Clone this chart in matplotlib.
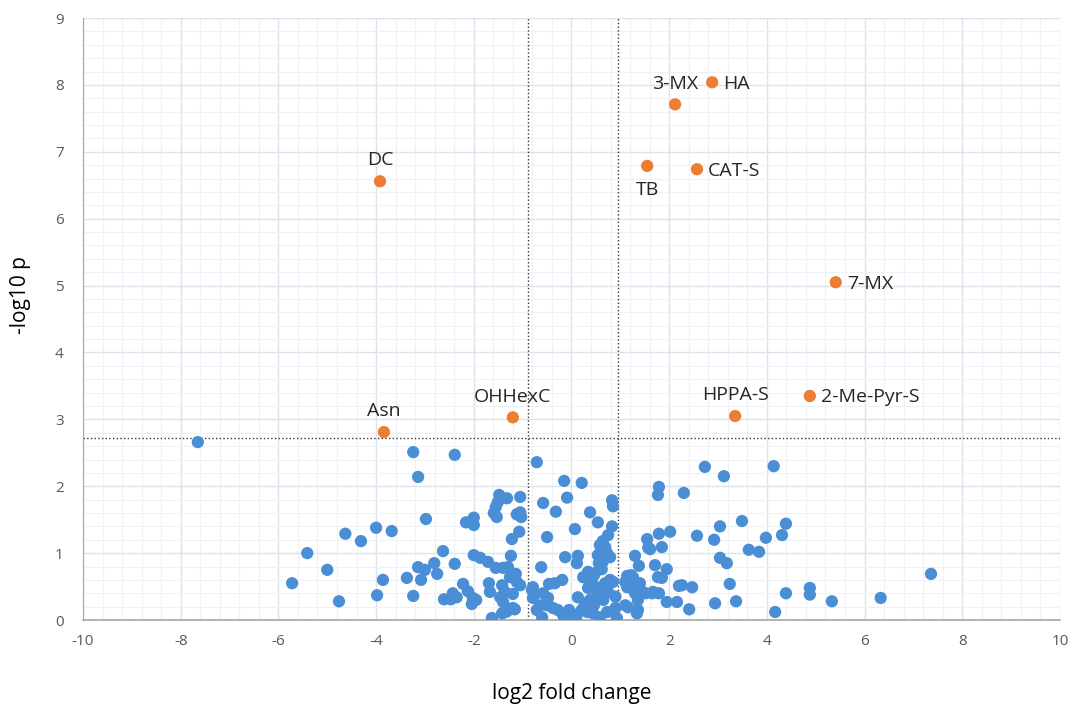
import matplotlib.pyplot as plt
from matplotlib.ticker import MultipleLocator

plt.rcParams['font.family'] = ['Open Sans', 'DejaVu Sans']
plt.rcParams['axes.unicode_minus'] = False

# Named / significant metabolites (orange)
sig_names = ['HA', '3-MX', 'TB', 'CAT-S', 'DC', '7-MX', '2-Me-Pyr-S', 'HPPA-S', 'OHHexC', 'Asn']
sig_x = [2.88, 2.12, 1.55, 2.57, -3.92, 5.41, 4.88, 3.35, -1.20, -3.84]
sig_y = [8.04, 7.71, 6.79, 6.74, 6.56, 5.05, 3.35, 3.05, 3.03, 2.81]
# where the label goes relative to its point
sig_pos = ['right', 'above', 'below', 'right', 'above', 'right', 'right', 'above', 'above', 'above']

# All other metabolites (blue)
fc = [
    -7.65, -5.72, -5.41, -5.00, -4.76, -4.63, -4.31, -4.00, -3.98, -3.86,
    -3.68, -3.24, -3.14, -3.24, -3.37, -3.14, -3.00, -3.08, -2.98, -2.81,
    -2.75, -2.63, -2.39, -2.39, -2.61, -2.43, -2.47, -2.35, -2.22, -2.16,
    -2.00, -2.00, -2.12, -2.02, -1.95, -2.04, -2.00, -1.87, -1.71, -1.69,
    -1.67, -1.55, -1.40, -1.30, -1.24, -1.63, -1.48, -1.51, -1.55, -1.59,
    -1.53, -1.32, -1.05, -1.12, -1.05, -1.03, -1.07, -1.22, -1.26, -1.14,
    -1.05, -1.46, -1.40, -1.20, -1.16, -1.32, -1.42, -1.12, -1.42, -1.36,
    -1.36, -1.20,
    -0.71, -0.58, -0.32, -0.15, -0.09, -0.50, -0.13, -0.62, -0.79, -0.46,
    -0.34, -0.19, -0.81, -0.79, -0.64, -0.71, -0.60, -0.58, -0.48, -0.50,
    -0.38, -0.28, -0.17, -0.07, 0.03,
    0.21, 0.07, 0.38, 0.54, 0.83, 0.85, 0.83, 0.75, 0.64, 0.58,
    0.69, 0.62, 0.73, 0.54, 0.79, 0.64, 0.56, 0.62, 0.13, 0.11,
    0.46, 0.13, 0.21, 0.32, 0.44, 0.58, 0.73, 0.85, 0.93, 0.38,
    0.52, 0.58, 0.69, 0.79, 0.85, 0.42, 0.48, 0.58, 0.24, 0.34,
    0.34, 0.52, 0.00, 0.10, -0.05, 0.27, 0.46, 0.65, 0.75, 0.90,
    0.90,
    1.30, 1.38, 1.55, 1.79, 1.85, 1.61, 1.79, 1.77, 2.02, 2.30,
    1.71, 1.95, 1.77, 1.85, 1.14, 1.22, 1.30, 1.10, 1.14, 1.30,
    1.36, 1.52, 1.65, 1.79, 1.36, 1.34, 1.10, 1.16, 1.95, 2.16,
    2.41, 2.20, 2.26, 2.47, 2.73, 3.12, 4.14, 2.57, 2.92, 3.04,
    3.49, 3.04, 3.18, 3.24, 2.94, 3.37, 3.63, 3.84, 3.98, 4.31,
    4.39, 4.17, 4.39, 4.88, 4.88, 5.33, 6.33, 7.36, 1.26, 1.40,
    1.46, 1.67, 1.57,
]
logp = [
    2.66, 0.55, 1.00, 0.75, 0.28, 1.29, 1.18, 1.38, 0.37, 0.60,
    1.33, 2.51, 2.14, 0.36, 0.63, 0.79, 0.75, 0.60, 1.51, 0.85,
    0.69, 1.03, 2.47, 0.84, 0.31, 0.40, 0.31, 0.34, 0.54, 1.46,
    1.53, 1.42, 0.43, 0.33, 0.30, 0.24, 0.97, 0.93, 0.87, 0.55,
    0.42, 0.78, 0.78, 0.79, 0.96, 0.03, 1.87, 1.76, 1.69, 1.60,
    1.54, 1.82, 1.84, 1.58, 1.61, 1.54, 1.32, 1.21, 0.64, 0.69,
    0.52, 0.34, 0.27, 0.39, 0.16, 0.13, 0.10, 0.57, 0.52, 0.42,
    0.12, 0.18,
    2.36, 1.75, 1.62, 2.08, 1.83, 1.24, 0.94, 0.79, 0.49, 0.54,
    0.55, 0.60, 0.45, 0.33, 0.22, 0.15, 0.04, 0.40, 0.33, 0.22,
    0.18, 0.15, 0.07, 0.04, 0.00,
    2.05, 1.36, 1.61, 1.46, 1.79, 1.70, 1.40, 1.27, 1.18, 1.12,
    1.09, 1.03, 1.00, 0.97, 0.94, 0.87, 0.85, 0.76, 0.96, 0.85,
    0.67, 0.34, 0.15, 0.12, 0.10, 0.04, 0.12, 0.12, 0.03, 0.30,
    0.37, 0.45, 0.55, 0.60, 0.57, 0.55, 0.70, 0.78, 0.64, 0.72,
    0.48, 0.49, 0.10, 0.05, 0.15, 0.25, 0.22, 0.30, 0.42, 0.35,
    0.18,
    0.96, 0.81, 1.21, 1.29, 1.09, 1.06, 1.99, 1.87, 1.32, 1.90,
    0.82, 0.76, 0.64, 0.63, 0.66, 0.67, 0.55, 0.57, 0.49, 0.40,
    0.30, 0.40, 0.40, 0.40, 0.15, 0.10, 0.22, 0.19, 0.27, 0.27,
    0.16, 0.51, 0.52, 0.49, 2.29, 2.15, 2.30, 1.26, 1.20, 1.40,
    1.48, 0.93, 0.85, 0.54, 0.25, 0.28, 1.05, 1.02, 1.23, 1.27,
    1.44, 0.12, 0.40, 0.48, 0.38, 0.28, 0.33, 0.69, 0.64, 0.55,
    0.42, 0.42, 1.08,
]

# cut-offs
fc_low, fc_high = -0.90, 0.96
p_cut = 2.72

fig = plt.figure(figsize=(10.7, 7.09), dpi=100)
ax = fig.add_axes([0.0776, 0.1255, 0.913, 0.849])

ax.scatter(fc, logp, s=78, color='#4a8fd6', edgecolors='none', zorder=3)
ax.scatter(sig_x, sig_y, s=78, color='#ed7d31', edgecolors='none', zorder=4)

offsets = {'right': ((8, -1), 'left', 'center'),
           'above': ((0, 15), 'center', 'center'),
           'below': ((0, -17), 'center', 'center')}
for name, x, y, pos in zip(sig_names, sig_x, sig_y, sig_pos):
    off, ha, va = offsets[pos]
    ax.annotate(name, (x, y), xytext=off, textcoords='offset points',
                ha=ha, va=va, fontsize=14, color='#262626', zorder=5)

# dotted threshold lines
ax.axhline(p_cut, color='#333333', linestyle=':', linewidth=1, zorder=2)
ax.axvline(fc_low, color='#333333', linestyle=':', linewidth=1, zorder=2)
ax.axvline(fc_high, color='#333333', linestyle=':', linewidth=1, zorder=2)

ax.set_xlim(-10, 10)
ax.set_ylim(0, 9)
ax.xaxis.set_major_locator(MultipleLocator(2))
ax.xaxis.set_minor_locator(MultipleLocator(0.4))
ax.yaxis.set_major_locator(MultipleLocator(1))
ax.yaxis.set_minor_locator(MultipleLocator(0.2))
ax.grid(which='major', color='#dde3ec', linewidth=1, zorder=0)
ax.grid(which='minor', color='#eef1f6', linewidth=0.8, zorder=0)
ax.set_axisbelow(True)

ax.tick_params(which='both', length=0, labelsize=11, labelcolor='#595959')
ax.tick_params(axis='x', pad=10)
ax.tick_params(axis='y', pad=14)
for side in ['top', 'right']:
    ax.spines[side].set_visible(False)
ax.spines['left'].set_color('#a6a6a6')
ax.spines['bottom'].set_color('#a6a6a6')
ax.spines['bottom'].set_linewidth(1.2)

ax.set_xlabel('log2 fold change', fontsize=15, color='#000000')
ax.set_ylabel('-log10 p', fontsize=15, color='#000000')
ax.xaxis.set_label_coords(0.5, -0.104)
ax.yaxis.set_label_coords(-0.053, 0.54)

plt.savefig('out.png', dpi=100)
